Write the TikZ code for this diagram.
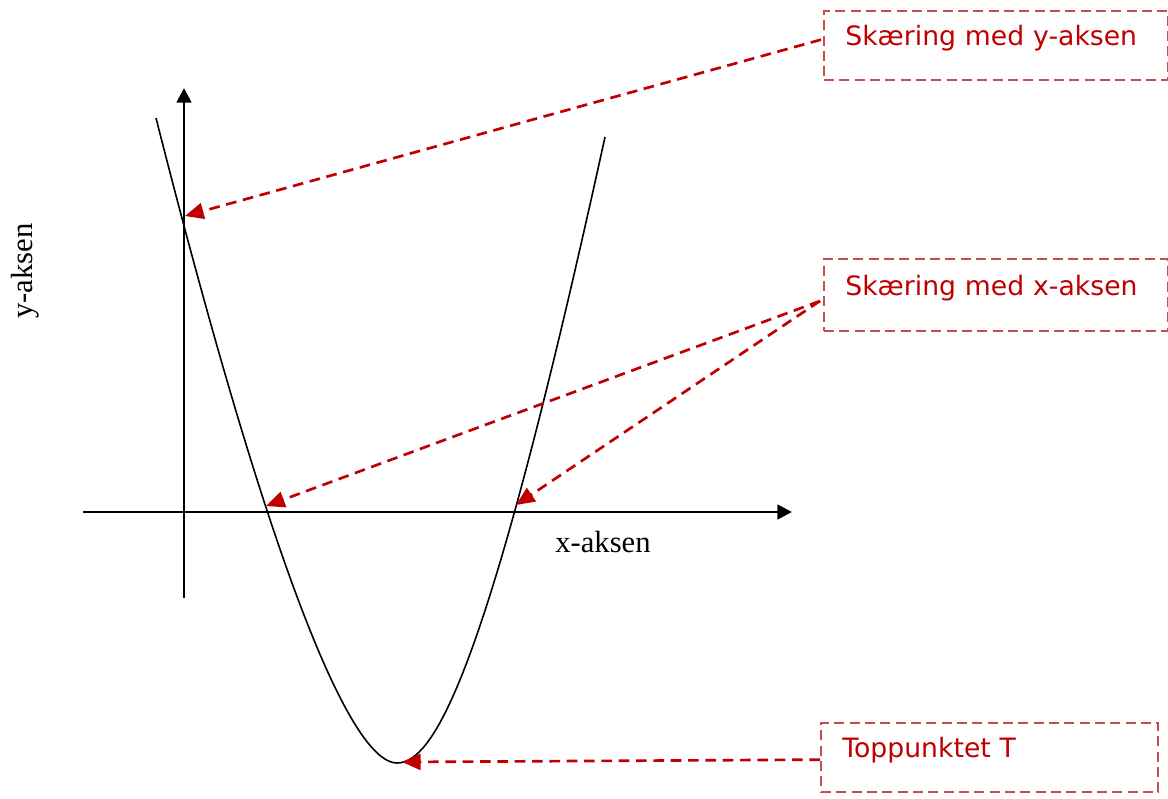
\documentclass[tikz,border=0pt]{standalone}
\usepackage{fontspec}
\setmainfont{Liberation Serif}
\newfontfamily\notefont{DejaVu Sans}
\usepackage{tikz}
\usetikzlibrary{arrows.meta,positioning,calc}
\definecolor{notered}{HTML}{C00000}
\definecolor{boxred}{HTML}{C0504D}
\tikzset{
  axisline/.style={-{Triangle[length=11pt,width=11pt]},line width=2pt,draw=black},
  graphline/.style={line width=1.2pt,draw=black},
  axislabel/.style={font=\fontsize{23}{27}\selectfont,inner sep=0pt},
  notebox/.style={draw=boxred,dash pattern=on 7.5pt off 4pt,line width=1.5pt,
                  text=notered,font=\notefont\fontsize{20}{24}\selectfont,
                  align=left,inner xsep=16pt,text height=15pt,text depth=15pt,
                  minimum height=52pt,anchor=north west},
  notearr/.style={-{Triangle[length=14pt,width=12pt]},dash pattern=on 8pt off 5pt,
                  line width=2pt,draw=notered}
}
\begin{document}
\begin{tikzpicture}[x=0.75pt,y=-0.75pt]
    \path[use as bounding box] (0,0) rectangle (1168,799);
    \coordinate (xstart) at (83,512);
    \coordinate (xend) at (792,512);
    \coordinate (ystart) at (184,598);
    \coordinate (yend) at (184,88);
    \draw[axisline] (xstart) -- (xend);
    \draw[axisline] (ystart) -- (yend);
    \node[axislabel] (xlabel) at (603,542) {x-aksen};
    \node[axislabel,rotate=90] (ylabel) at (25,271) {y-aksen};
    \draw[graphline] (156,118) .. controls (288,638) and (360,763) .. (397,763)
      .. controls (437,763) and (491,657) .. (605,137);
    \coordinate (ycut) at (185,216);
    \coordinate (xcutleft) at (266,506);
    \coordinate (xcutright) at (516,505);
    \coordinate (vertex) at (402,762);
    \node[notebox,text width=226pt] (ybox) at (823,10) {Skæring med y-aksen};
    \node[notebox,text width=226pt,minimum height=54pt] (xbox) at (823,258) {Skæring med x-aksen};
    \node[notebox,text width=221pt] (tbox) at (820,722) {Toppunktet T};
    \draw[notearr] ($(ybox.west)+(-2,-6)$) -- (ycut);
    \draw[notearr] ($(xbox.west)+(-3,6)$) -- (xcutleft);
    \draw[notearr] ($(xbox.west)+(-3,6)$) -- (xcutright);
    \draw[notearr] ($(tbox.west)+(0,2)$) -- (vertex);
  \end{tikzpicture}
\end{document}
